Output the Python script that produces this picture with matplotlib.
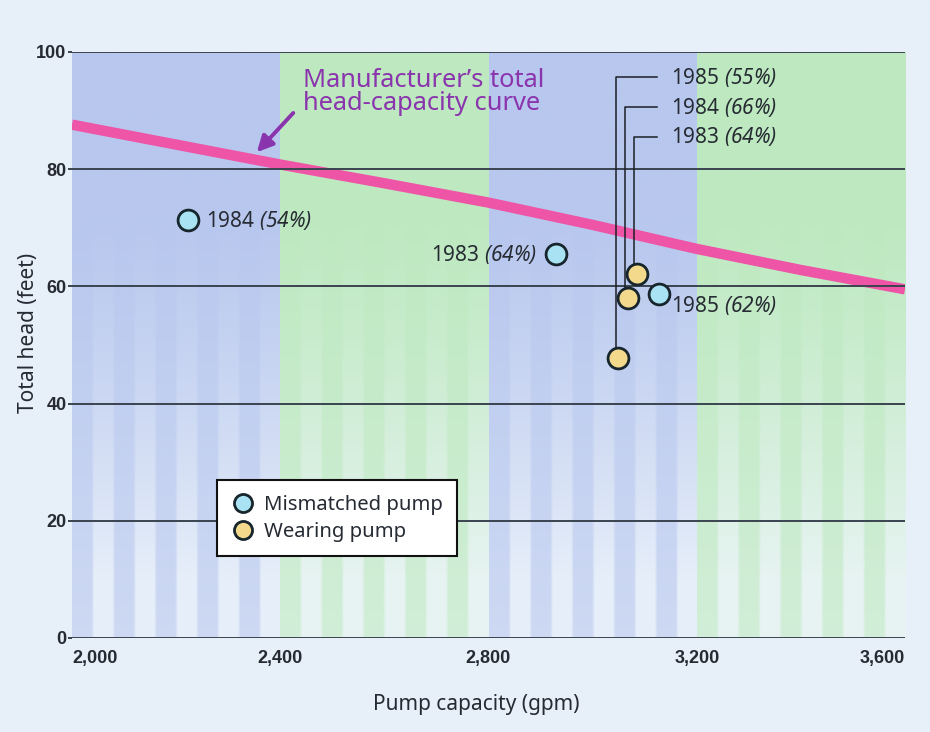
import numpy as np
import matplotlib
matplotlib.use('Agg')
import matplotlib.pyplot as plt
from matplotlib.lines import Line2D

plt.rcParams['font.family'] = ['Noto Sans', 'DejaVu Sans']
plt.rcParams['mathtext.fontset'] = 'custom'
plt.rcParams['mathtext.rm'] = 'Noto Sans'
# \mathsf usado para o itálico (o \mathit força dígitos em romano)
plt.rcParams['mathtext.sf'] = 'Noto Sans:italic'

# dados
curve_x = [2000, 2200, 2400, 2600, 2800, 3000, 3200, 3400, 3600]
curve_y = [87.6, 84.2, 80.8, 77.6, 74.3, 70.5, 66.4, 62.8, 59.5]

mism_x = [2223, 2930, 3127]
mism_y = [71.3, 65.5, 58.7]
mism_labels = ['1984 $\\mathsf{(54\\%)}$', '1983 $\\mathsf{(64\\%)}$', '1985 $\\mathsf{(62\\%)}$']

wear_x = [3049, 3068, 3085]
wear_y = [47.8, 58.0, 62.1]
wear_labels = ['1985 $\\mathsf{(55\\%)}$', '1984 $\\mathsf{(66\\%)}$', '1983 $\\mathsf{(64\\%)}$']

x_ticks = [2000, 2400, 2800, 3200, 3600]
x_ticklabels = ['2,000', '2,400', '2,800', '3,200', '3,600']
y_ticks = [0, 20, 40, 60, 80, 100]

# cores
BG = '#e7eff8'
BLUE = np.array([184, 199, 238]) / 255
GREEN = np.array([190, 233, 192]) / 255
PALE = np.array([238, 245, 251]) / 255
GRID = '#3a4450'
PINK = '#ee55a6'
PURPLE = '#8a34ad'
TEXT = '#262b33'

fig = plt.figure(figsize=(9.3, 7.32), dpi=100)
fig.patch.set_facecolor(BG)
ax = fig.add_axes([72 / 930, 1 - 638 / 732, 833 / 930, 586 / 732])

# faixas de fundo com listras que clareiam para baixo
rows = 300
t = np.linspace(0, 1, rows)[:, None]
light_blend = np.clip((t - 0.28) / 0.62, 0, 1) ** 1.2 * 0.85
dark_blend = np.clip((t - 0.3) / 0.7, 0, 1) * 0.4
cols = np.arange(80)
dark_mask = ((cols // 8) % 2 == 0)[None, :]
blend = np.where(dark_mask, dark_blend, light_blend)
for i in range(len(x_ticks) - 1):
    base = BLUE if i % 2 == 0 else GREEN
    img = base[None, None, :] + (PALE - base)[None, None, :] * blend[:, :, None]
    ax.imshow(img, extent=(x_ticks[i], x_ticks[i + 1], 0, 100),
              aspect='auto', interpolation='bilinear', zorder=0)

ax.set_xlim(2000, 3600)
ax.set_ylim(0, 100)
for s in ax.spines.values():
    s.set_visible(False)

ax.set_yticks(y_ticks)
ax.yaxis.grid(True, color=GRID, lw=1.4, zorder=1)
ax.set_axisbelow(False)
ax.set_xticks(x_ticks)
ax.set_xticklabels(x_ticklabels)
ax.tick_params(axis='x', length=0, pad=9)
ax.tick_params(axis='y', length=3, width=1.4, color=GRID, pad=1)
for lab in ax.get_xticklabels() + ax.get_yticklabels():
    lab.set_family('Liberation Sans')
    lab.set_weight('bold')
    lab.set_fontsize(13)
    lab.set_color(TEXT)
ax.get_xticklabels()[0].set_ha('left')
ax.get_xticklabels()[-1].set_ha('right')

ax.set_xlabel('Pump capacity (gpm)', fontsize=15, color=TEXT)
ax.xaxis.set_label_coords(0.485, -0.095)
ax.set_ylabel('Total head (feet)', fontsize=15, color=TEXT)
ax.yaxis.set_label_coords(-0.04, 0.52)

# curva do fabricante
ax.plot(curve_x, curve_y, color=PINK, lw=7.5, solid_capstyle='butt', zorder=2)
ax.text(2443, 97.3, 'Manufacturer\u2019s total\nhead-capacity curve', color=PURPLE,
        fontsize=18.3, va='top', ha='left', linespacing=0.92, zorder=5)
ax.annotate('', xy=(2355, 82.9), xytext=(2425, 89.6),
            arrowprops=dict(arrowstyle='-|>', color=PURPLE, lw=2.8,
                            mutation_scale=24, shrinkA=0, shrinkB=0), zorder=5)

# linhas de chamada dos pontos "wearing"
leader_y = [95.7, 90.6, 85.5]
leader_end = 3124
for x, y, ly, lab in zip(wear_x, wear_y, leader_y, wear_labels):
    ax.plot([x - 5, x - 5, leader_end], [y, ly, ly], color='#1c2026', lw=1.1, zorder=3)
    ax.text(leader_end + 26, ly, lab, fontsize=15, color=TEXT, va='center', ha='left', zorder=5)

mk = dict(marker='o', ms=15, mew=2.0, mec='#17252c', ls='none', zorder=4)
ax.plot(mism_x, mism_y, mfc='#a9e3f3', **mk)
ax.plot(wear_x, wear_y, mfc='#f3d98c', **mk)

offsets = [(13, 0, 'left'), (-14, 0, 'right'), (9, -8, 'left')]
for x, y, lab, (dx, dy, ha) in zip(mism_x, mism_y, mism_labels, offsets):
    ax.annotate(lab, (x, y), xytext=(dx, dy), textcoords='offset points',
                fontsize=15, color=TEXT, ha=ha, va='center', zorder=5)

handles = [Line2D([], [], marker='o', ms=13, mew=2.0, mec='#17252c', mfc='#a9e3f3', ls='none'),
           Line2D([], [], marker='o', ms=13, mew=2.0, mec='#17252c', mfc='#f3d98c', ls='none')]
leg = ax.legend(handles, ['Mismatched pump', 'Wearing pump'], loc='lower left',
                bbox_to_anchor=(0.174, 0.14), fontsize=14.6, frameon=True, fancybox=False,
                framealpha=1, facecolor='white', edgecolor='#111111', handletextpad=0.4,
                labelspacing=0.35, borderpad=0.7, handlelength=1.2, borderaxespad=0)
leg.get_frame().set_linewidth(1.5)
for txt in leg.get_texts():
    txt.set_color(TEXT)
leg.set_zorder(6)

fig.savefig('out.png', dpi=100, facecolor=BG)
